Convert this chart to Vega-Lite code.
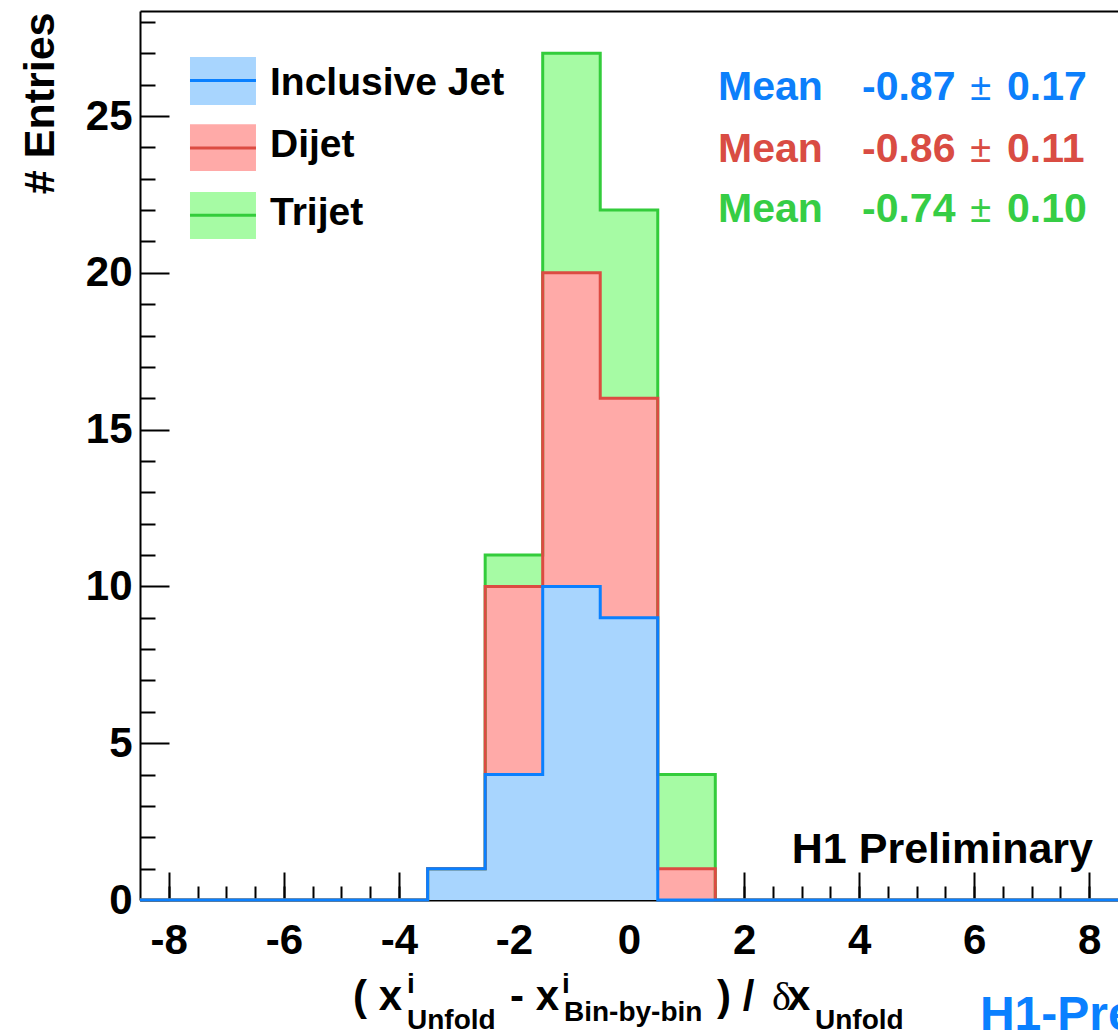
{
  "$schema": "https://vega.github.io/schema/vega-lite/v6.json",
  "width": 978,
  "height": 889,
  "autosize": "none",
  "padding": {"left": 140, "top": 11, "right": 0, "bottom": 133},
  "background": "white",
  "config": {"view": {"stroke": null}, "axis": {"grid": false, "zindex": 1}},
  "datasets": {
    "hist": [
      {"series": "Inclusive Jet", "edge": -8.5, "entries": 0},
      {"series": "Inclusive Jet", "edge": -7.5, "entries": 0},
      {"series": "Inclusive Jet", "edge": -6.5, "entries": 0},
      {"series": "Inclusive Jet", "edge": -5.5, "entries": 0},
      {"series": "Inclusive Jet", "edge": -4.5, "entries": 0},
      {"series": "Inclusive Jet", "edge": -3.5, "entries": 1},
      {"series": "Inclusive Jet", "edge": -2.5, "entries": 4},
      {"series": "Inclusive Jet", "edge": -1.5, "entries": 10},
      {"series": "Inclusive Jet", "edge": -0.5, "entries": 9},
      {"series": "Inclusive Jet", "edge": 0.5, "entries": 0},
      {"series": "Inclusive Jet", "edge": 1.5, "entries": 0},
      {"series": "Inclusive Jet", "edge": 2.5, "entries": 0},
      {"series": "Inclusive Jet", "edge": 3.5, "entries": 0},
      {"series": "Inclusive Jet", "edge": 4.5, "entries": 0},
      {"series": "Inclusive Jet", "edge": 5.5, "entries": 0},
      {"series": "Inclusive Jet", "edge": 6.5, "entries": 0},
      {"series": "Inclusive Jet", "edge": 7.5, "entries": 0},
      {"series": "Inclusive Jet", "edge": 8.5, "entries": 0},
      {"series": "Dijet", "edge": -8.5, "entries": 0},
      {"series": "Dijet", "edge": -7.5, "entries": 0},
      {"series": "Dijet", "edge": -6.5, "entries": 0},
      {"series": "Dijet", "edge": -5.5, "entries": 0},
      {"series": "Dijet", "edge": -4.5, "entries": 0},
      {"series": "Dijet", "edge": -3.5, "entries": 1},
      {"series": "Dijet", "edge": -2.5, "entries": 10},
      {"series": "Dijet", "edge": -1.5, "entries": 20},
      {"series": "Dijet", "edge": -0.5, "entries": 16},
      {"series": "Dijet", "edge": 0.5, "entries": 1},
      {"series": "Dijet", "edge": 1.5, "entries": 0},
      {"series": "Dijet", "edge": 2.5, "entries": 0},
      {"series": "Dijet", "edge": 3.5, "entries": 0},
      {"series": "Dijet", "edge": 4.5, "entries": 0},
      {"series": "Dijet", "edge": 5.5, "entries": 0},
      {"series": "Dijet", "edge": 6.5, "entries": 0},
      {"series": "Dijet", "edge": 7.5, "entries": 0},
      {"series": "Dijet", "edge": 8.5, "entries": 0},
      {"series": "Trijet", "edge": -8.5, "entries": 0},
      {"series": "Trijet", "edge": -7.5, "entries": 0},
      {"series": "Trijet", "edge": -6.5, "entries": 0},
      {"series": "Trijet", "edge": -5.5, "entries": 0},
      {"series": "Trijet", "edge": -4.5, "entries": 0},
      {"series": "Trijet", "edge": -3.5, "entries": 1},
      {"series": "Trijet", "edge": -2.5, "entries": 11},
      {"series": "Trijet", "edge": -1.5, "entries": 27},
      {"series": "Trijet", "edge": -0.5, "entries": 22},
      {"series": "Trijet", "edge": 0.5, "entries": 4},
      {"series": "Trijet", "edge": 1.5, "entries": 0},
      {"series": "Trijet", "edge": 2.5, "entries": 0},
      {"series": "Trijet", "edge": 3.5, "entries": 0},
      {"series": "Trijet", "edge": 4.5, "entries": 0},
      {"series": "Trijet", "edge": 5.5, "entries": 0},
      {"series": "Trijet", "edge": 6.5, "entries": 0},
      {"series": "Trijet", "edge": 7.5, "entries": 0},
      {"series": "Trijet", "edge": 8.5, "entries": 0}
    ]
  },
  "resolve": {"axis": {"x": "independent", "y": "independent"}},
  "layer": [
    {
      "data": {"name": "hist"},
      "transform": [{"filter": "datum.series === 'Trijet'"}],
      "mark": {"type": "area", "interpolate": "step-after", "color": "#a6fba4", "opacity": 1},
      "encoding": {
        "x": {"field": "edge", "type": "quantitative", "scale": {"domain": [-8.5, 8.5], "nice": false, "zero": false},
          "axis": {"orient": "bottom", "values": [-8, -6, -4, -2, 0, 2, 4, 6, 8], "tickSize": -28, "tickWidth": 2, "tickColor": "black", "domainWidth": 2, "domainColor": "black", "labelFont": "Liberation Sans", "labelFontWeight": "bold", "labelFontSize": 42, "labelColor": "black", "labelPadding": 48, "labelFlush": false, "labelExpr": "replace(datum.label, '\u2212', '-')", "title": null}},
        "y": {"field": "entries", "type": "quantitative", "stack": null, "scale": {"domain": [0, 28.35], "nice": false, "zero": true},
          "axis": {"orient": "left", "values": [0, 5, 10, 15, 20, 25], "tickSize": -29, "tickWidth": 2, "tickColor": "black", "domainWidth": 2, "domainColor": "black", "labelFont": "Liberation Sans", "labelFontWeight": "bold", "labelFontSize": 42, "labelColor": "black", "labelPadding": 37, "labelFlush": false,
            "title": "# Entries", "titleFont": "Liberation Sans", "titleFontWeight": "bold", "titleFontSize": 43, "titleColor": "black", "titleAngle": -90, "titleAlign": "right", "titleBaseline": "alphabetic", "titleAnchor": null, "titleX": -87, "titleY": 1}}
      }
    },
    {
      "data": {"name": "hist"},
      "transform": [{"filter": "datum.series === 'Dijet'"}],
      "mark": {"type": "area", "interpolate": "step-after", "color": "#ffaaa8", "opacity": 1},
      "encoding": {
        "x": {"field": "edge", "type": "quantitative",
          "axis": {"orient": "bottom", "values": [-8, -7.5, -7, -6.5, -6, -5.5, -5, -4.5, -4, -3.5, -3, -2.5, -2, -1.5, -1, -0.5, 0, 0.5, 1, 1.5, 2, 2.5, 3, 3.5, 4, 4.5, 5, 5.5, 6, 6.5, 7, 7.5, 8], "tickSize": -14, "tickWidth": 2, "tickColor": "black", "domain": false, "labels": false, "title": null}},
        "y": {"field": "entries", "type": "quantitative", "stack": null,
          "axis": {"orient": "left", "values": [1, 2, 3, 4, 6, 7, 8, 9, 11, 12, 13, 14, 16, 17, 18, 19, 21, 22, 23, 24, 26, 27, 28], "tickSize": -15, "tickWidth": 2, "tickColor": "black", "domain": false, "labels": false, "title": null}}
      }
    },
    {
      "data": {"name": "hist"},
      "transform": [{"filter": "datum.series === 'Inclusive Jet'"}],
      "mark": {"type": "area", "interpolate": "step-after", "color": "#a8d5fe", "opacity": 1},
      "encoding": {
        "x": {"field": "edge", "type": "quantitative",
          "axis": {"orient": "top", "ticks": false, "labels": false, "domain": true, "domainWidth": 2, "domainColor": "black", "title": null}},
        "y": {"field": "entries", "type": "quantitative", "stack": null, "axis": null}
      }
    },
    {
      "data": {"name": "hist"},
      "transform": [{"filter": "datum.series === 'Trijet'"}],
      "mark": {"type": "line", "interpolate": "step-after", "color": "#33cc3b", "strokeWidth": 3},
      "encoding": {
        "x": {"field": "edge", "type": "quantitative", "axis": null},
        "y": {"field": "entries", "type": "quantitative", "axis": null}
      }
    },
    {
      "data": {"name": "hist"},
      "transform": [{"filter": "datum.series === 'Dijet'"}],
      "mark": {"type": "line", "interpolate": "step-after", "color": "#dc4b42", "strokeWidth": 3},
      "encoding": {
        "x": {"field": "edge", "type": "quantitative", "axis": null},
        "y": {"field": "entries", "type": "quantitative", "axis": null}
      }
    },
    {
      "data": {"name": "hist"},
      "transform": [{"filter": "datum.series === 'Inclusive Jet'"}],
      "mark": {"type": "line", "interpolate": "step-after", "color": "#0a80ff", "strokeWidth": 3},
      "encoding": {
        "x": {"field": "edge", "type": "quantitative", "axis": null},
        "y": {"field": "entries", "type": "quantitative", "axis": null}
      }
    },
    {"data": {"values": [{}]}, "mark": {"type": "rect", "color": "#a8d5fe"},
      "encoding": {"x": {"datum": -7.631, "axis": null}, "x2": {"datum": -6.484}, "y": {"datum": 26.88, "axis": null}, "y2": {"datum": 25.35}}},
    {"data": {"values": [{}]}, "mark": {"type": "rect", "color": "#ffaaa8"},
      "encoding": {"x": {"datum": -7.631, "axis": null}, "x2": {"datum": -6.484}, "y": {"datum": 24.74, "axis": null}, "y2": {"datum": 23.25}}},
    {"data": {"values": [{}]}, "mark": {"type": "rect", "color": "#a6fba4"},
      "encoding": {"x": {"datum": -7.631, "axis": null}, "x2": {"datum": -6.484}, "y": {"datum": 22.58, "axis": null}, "y2": {"datum": 21.08}}},
    {"data": {"values": [{}]}, "mark": {"type": "rule", "color": "#0a80ff", "strokeWidth": 3},
      "encoding": {"x": {"datum": -7.631, "axis": null}, "x2": {"datum": -6.484}, "y": {"datum": 26.13, "axis": null}}},
    {"data": {"values": [{}]}, "mark": {"type": "rule", "color": "#dc4b42", "strokeWidth": 3},
      "encoding": {"x": {"datum": -7.631, "axis": null}, "x2": {"datum": -6.484}, "y": {"datum": 23.98, "axis": null}}},
    {"data": {"values": [{}]}, "mark": {"type": "rule", "color": "#33cc3b", "strokeWidth": 3},
      "encoding": {"x": {"datum": -7.631, "axis": null}, "x2": {"datum": -6.484}, "y": {"datum": 21.84, "axis": null}}},
    {"data": {"values": [{}]}, "mark": {"type": "text", "text": "Inclusive Jet", "font": "Liberation Sans", "fontWeight": "bold", "fontSize": 39, "align": "left", "baseline": "alphabetic", "color": "black"},
      "encoding": {"x": {"datum": -6.24, "axis": null}, "y": {"datum": 25.67, "axis": null}}},
    {"data": {"values": [{}]}, "mark": {"type": "text", "text": "Dijet", "font": "Liberation Sans", "fontWeight": "bold", "fontSize": 39, "align": "left", "baseline": "alphabetic", "color": "black"},
      "encoding": {"x": {"datum": -6.24, "axis": null}, "y": {"datum": 23.69, "axis": null}}},
    {"data": {"values": [{}]}, "mark": {"type": "text", "text": "Trijet", "font": "Liberation Sans", "fontWeight": "bold", "fontSize": 39, "align": "left", "baseline": "alphabetic", "color": "black"},
      "encoding": {"x": {"datum": -6.24, "axis": null}, "y": {"datum": 21.52, "axis": null}}},
    {"data": {"values": [{}]}, "mark": {"type": "text", "text": "Mean", "font": "Liberation Sans", "fontWeight": "bold", "fontSize": 41, "align": "left", "baseline": "alphabetic", "color": "#0c7ffb"},
      "encoding": {"x": {"datum": 1.547, "axis": null}, "y": {"datum": 25.51, "axis": null}}},
    {"data": {"values": [{}]}, "mark": {"type": "text", "text": "-0.87", "font": "Liberation Sans", "fontWeight": "bold", "fontSize": 41, "align": "left", "baseline": "alphabetic", "color": "#0c7ffb"},
      "encoding": {"x": {"datum": 4.05, "axis": null}, "y": {"datum": 25.51, "axis": null}}},
    {"data": {"values": [{}]}, "mark": {"type": "text", "text": "±", "font": "Liberation Sans", "fontSize": 38, "align": "left", "baseline": "alphabetic", "color": "#0c7ffb"},
      "encoding": {"x": {"datum": 5.93, "axis": null}, "y": {"datum": 25.51, "axis": null}}},
    {"data": {"values": [{}]}, "mark": {"type": "text", "text": "0.17", "font": "Liberation Sans", "fontWeight": "bold", "fontSize": 41, "align": "left", "baseline": "alphabetic", "color": "#0c7ffb"},
      "encoding": {"x": {"datum": 6.57, "axis": null}, "y": {"datum": 25.51, "axis": null}}},
    {"data": {"values": [{}]}, "mark": {"type": "text", "text": "Mean", "font": "Liberation Sans", "fontWeight": "bold", "fontSize": 41, "align": "left", "baseline": "alphabetic", "color": "#d94c43"},
      "encoding": {"x": {"datum": 1.547, "axis": null}, "y": {"datum": 23.54, "axis": null}}},
    {"data": {"values": [{}]}, "mark": {"type": "text", "text": "-0.86", "font": "Liberation Sans", "fontWeight": "bold", "fontSize": 41, "align": "left", "baseline": "alphabetic", "color": "#d94c43"},
      "encoding": {"x": {"datum": 4.05, "axis": null}, "y": {"datum": 23.54, "axis": null}}},
    {"data": {"values": [{}]}, "mark": {"type": "text", "text": "±", "font": "Liberation Sans", "fontSize": 38, "align": "left", "baseline": "alphabetic", "color": "#d94c43"},
      "encoding": {"x": {"datum": 5.93, "axis": null}, "y": {"datum": 23.54, "axis": null}}},
    {"data": {"values": [{}]}, "mark": {"type": "text", "text": "0.11", "font": "Liberation Sans", "fontWeight": "bold", "fontSize": 41, "align": "left", "baseline": "alphabetic", "color": "#d94c43"},
      "encoding": {"x": {"datum": 6.57, "axis": null}, "y": {"datum": 23.54, "axis": null}}},
    {"data": {"values": [{}]}, "mark": {"type": "text", "text": "Mean", "font": "Liberation Sans", "fontWeight": "bold", "fontSize": 41, "align": "left", "baseline": "alphabetic", "color": "#36cd45"},
      "encoding": {"x": {"datum": 1.547, "axis": null}, "y": {"datum": 21.63, "axis": null}}},
    {"data": {"values": [{}]}, "mark": {"type": "text", "text": "-0.74", "font": "Liberation Sans", "fontWeight": "bold", "fontSize": 41, "align": "left", "baseline": "alphabetic", "color": "#36cd45"},
      "encoding": {"x": {"datum": 4.05, "axis": null}, "y": {"datum": 21.63, "axis": null}}},
    {"data": {"values": [{}]}, "mark": {"type": "text", "text": "±", "font": "Liberation Sans", "fontSize": 38, "align": "left", "baseline": "alphabetic", "color": "#36cd45"},
      "encoding": {"x": {"datum": 5.93, "axis": null}, "y": {"datum": 21.63, "axis": null}}},
    {"data": {"values": [{}]}, "mark": {"type": "text", "text": "0.10", "font": "Liberation Sans", "fontWeight": "bold", "fontSize": 41, "align": "left", "baseline": "alphabetic", "color": "#36cd45"},
      "encoding": {"x": {"datum": 6.57, "axis": null}, "y": {"datum": 21.63, "axis": null}}},
    {"data": {"values": [{}]}, "mark": {"type": "text", "text": "H1 Preliminary", "font": "Liberation Sans", "fontWeight": "bold", "fontSize": 43, "align": "right", "baseline": "alphabetic", "color": "black"},
      "encoding": {"x": {"datum": 8.065, "axis": null}, "y": {"datum": 1.18, "axis": null}}},
    {"data": {"values": [{}]}, "mark": {"type": "text", "text": "H1-Preliminary", "font": "Liberation Sans", "fontWeight": "bold", "fontSize": 48, "align": "left", "baseline": "alphabetic", "color": "#0a80ff"},
      "encoding": {"x": {"datum": 6.1, "axis": null}, "y": {"datum": -4.14, "axis": null}}},
    {"data": {"values": [{}]}, "mark": {"type": "text", "text": "( x", "font": "Liberation Sans", "fontWeight": "bold", "fontSize": 42, "align": "left", "baseline": "alphabetic", "color": "black"},
      "encoding": {"x": {"datum": -4.798, "axis": null}, "y": {"datum": -3.508, "axis": null}}},
    {"data": {"values": [{}]}, "mark": {"type": "text", "text": "i", "font": "Liberation Sans", "fontWeight": "bold", "fontSize": 28, "align": "left", "baseline": "alphabetic", "color": "black"},
      "encoding": {"x": {"datum": -3.859, "axis": null}, "y": {"datum": -2.966, "axis": null}}},
    {"data": {"values": [{}]}, "mark": {"type": "text", "text": "Unfold", "font": "Liberation Sans", "fontWeight": "bold", "fontSize": 28, "align": "left", "baseline": "alphabetic", "color": "black"},
      "encoding": {"x": {"datum": -3.859, "axis": null}, "y": {"datum": -4.12, "axis": null}}},
    {"data": {"values": [{}]}, "mark": {"type": "text", "text": "- x", "font": "Liberation Sans", "fontWeight": "bold", "fontSize": 42, "align": "left", "baseline": "alphabetic", "color": "black"},
      "encoding": {"x": {"datum": -2.069, "axis": null}, "y": {"datum": -3.508, "axis": null}}},
    {"data": {"values": [{}]}, "mark": {"type": "text", "text": "i", "font": "Liberation Sans", "fontWeight": "bold", "fontSize": 28, "align": "left", "baseline": "alphabetic", "color": "black"},
      "encoding": {"x": {"datum": -1.165, "axis": null}, "y": {"datum": -2.966, "axis": null}}},
    {"data": {"values": [{}]}, "mark": {"type": "text", "text": "Bin-by-bin", "font": "Liberation Sans", "fontWeight": "bold", "fontSize": 28, "align": "left", "baseline": "alphabetic", "color": "black"},
      "encoding": {"x": {"datum": -1.13, "axis": null}, "y": {"datum": -3.858, "axis": null}}},
    {"data": {"values": [{}]}, "mark": {"type": "text", "text": ") /", "font": "Liberation Sans", "fontWeight": "bold", "fontSize": 42, "align": "left", "baseline": "alphabetic", "color": "black"},
      "encoding": {"x": {"datum": 1.53, "axis": null}, "y": {"datum": -3.508, "axis": null}}},
    {"data": {"values": [{}]}, "mark": {"type": "text", "text": "δ", "font": "Liberation Serif", "fontSize": 40, "align": "left", "baseline": "alphabetic", "color": "black"},
      "encoding": {"x": {"datum": 2.485, "axis": null}, "y": {"datum": -3.508, "axis": null}}},
    {"data": {"values": [{}]}, "mark": {"type": "text", "text": "x", "font": "Liberation Sans", "fontWeight": "bold", "fontSize": 42, "align": "left", "baseline": "alphabetic", "color": "black"},
      "encoding": {"x": {"datum": 2.746, "axis": null}, "y": {"datum": -3.508, "axis": null}}},
    {"data": {"values": [{}]}, "mark": {"type": "text", "text": "Unfold", "font": "Liberation Sans", "fontWeight": "bold", "fontSize": 28, "align": "left", "baseline": "alphabetic", "color": "black"},
      "encoding": {"x": {"datum": 3.233, "axis": null}, "y": {"datum": -4.12, "axis": null}}}
  ]
}
